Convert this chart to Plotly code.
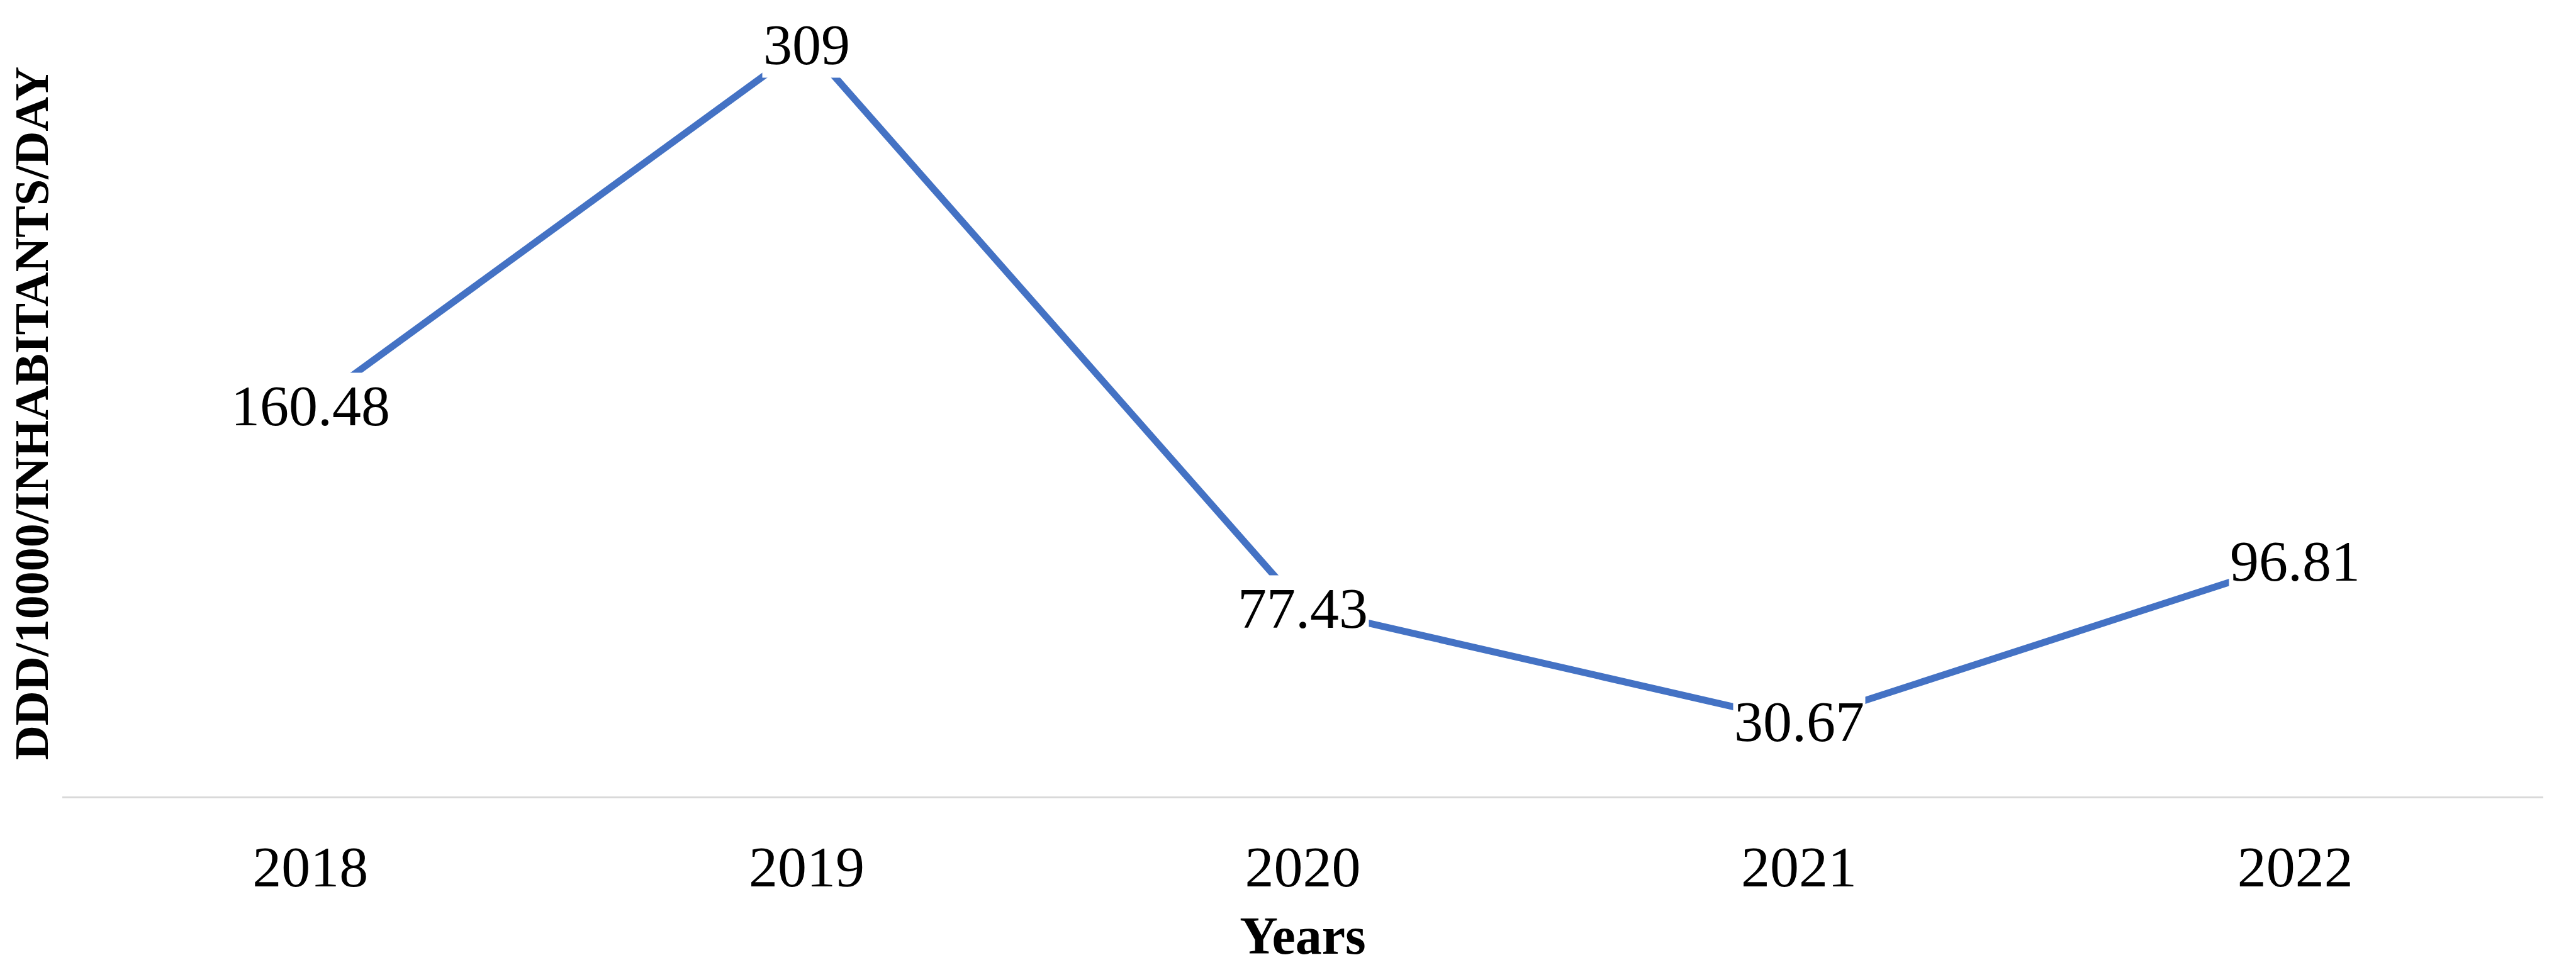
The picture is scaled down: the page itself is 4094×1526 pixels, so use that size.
import plotly.graph_objects as go

years = ["2018", "2019", "2020", "2021", "2022"]
ddd = [160.48, 309, 77.43, 30.67, 96.81]
labels = ["160.48", "309", "77.43", "30.67", "96.81"]

fig = go.Figure()
fig.add_trace(go.Scatter(x=years, y=ddd, mode="lines",
                         line=dict(color="#4472C4", width=11)))

# data labels with white boxes sitting over the line, like Excel
for i, (y, t) in enumerate(zip(ddd, labels)):
    fig.add_annotation(x=i, y=y, xref="x", yref="y", text=t, showarrow=False,
                       bgcolor="white",
                       font=dict(family="Liberation Serif", size=92, color="black"))

fig.update_layout(
    width=4094, height=1526,
    margin=dict(l=91, r=60, t=40, b=268),
    plot_bgcolor="white", paper_bgcolor="white",
    showlegend=False,
    font=dict(family="Liberation Serif", color="black"),
    xaxis=dict(type="category", range=[-0.5, 4.5], showgrid=False,
               showline=True, linecolor="#d9d9d9", linewidth=3,
               tickfont=dict(size=92), ticks="", ticklabelstandoff=30,
               title=dict(text="<b>Years</b>", font=dict(size=84), standoff=30)),
    yaxis=dict(range=[0, 315], showgrid=False, showticklabels=False,
               zeroline=False,
               title=dict(text="<b>DDD/10000/INHABITANTS/DAY</b>",
                          font=dict(size=76), standoff=0)),
)

fig.write_html("out.html")
